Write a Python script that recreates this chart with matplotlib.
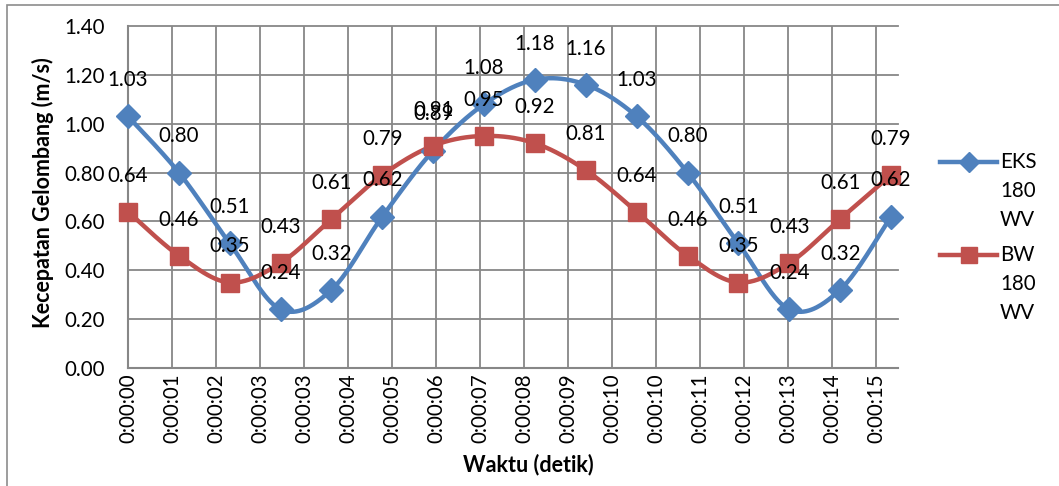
import numpy as np
import matplotlib
matplotlib.use("Agg")
import matplotlib.pyplot as plt
from matplotlib.lines import Line2D
from matplotlib.patches import Rectangle

# Measurement times (seconds) and wave velocities (m/s)
time_s = [0, 1, 2, 3, 4, 5, 6, 7, 8, 9, 10, 11, 12, 13, 14, 15]
eks_180_wv = [1.03, 0.80, 0.51, 0.24, 0.32, 0.62, 0.89, 1.08,
              1.18, 1.16, 1.03, 0.80, 0.51, 0.24, 0.32, 0.62]
bw_180_wv = [0.64, 0.46, 0.35, 0.43, 0.61, 0.79, 0.91, 0.95,
             0.92, 0.81, 0.64, 0.46, 0.35, 0.43, 0.61, 0.79]

series_names = ["EKS\n180\nWV", "BW\n180\nWV"]
tick_labels = ["0:00:00", "0:00:01", "0:00:02", "0:00:03", "0:00:03",
               "0:00:04", "0:00:05", "0:00:06", "0:00:07", "0:00:08",
               "0:00:09", "0:00:10", "0:00:10", "0:00:11", "0:00:12",
               "0:00:13", "0:00:14", "0:00:15"]
tick_step = 0.865  # major unit of the time axis, in seconds

BLUE = "#4F81BD"
RED = "#C0504D"
GRID = "#878787"
FONT = "Lato"
FS = 14.8
FS_TITLE = 15.5

plt.rcParams["font.family"] = [FONT, "DejaVu Sans"]


def smooth(x, y, n=40):
    """Bezier smoothing through every point (Catmull-Rom, tension 1/6)."""
    P = np.column_stack([np.asarray(x, float), np.asarray(y, float)])
    out = [P[0]]
    t = np.linspace(0, 1, n)[1:, None]
    for i in range(len(P) - 1):
        p0 = P[i - 1] if i > 0 else P[i]
        p1, p2 = P[i], P[i + 1]
        p3 = P[i + 2] if i + 2 < len(P) else P[i + 1]
        c1 = p1 + (p2 - p0) / 6.0
        c2 = p2 - (p3 - p1) / 6.0
        b = ((1 - t) ** 3) * p1 + 3 * ((1 - t) ** 2) * t * c1 \
            + 3 * (1 - t) * t ** 2 * c2 + t ** 3 * p2
        out.extend(b)
    out = np.array(out)
    return out[:, 0], out[:, 1]


W, H = 1059, 486
fig = plt.figure(figsize=(W / 100, H / 100), dpi=100)

# outer chart frame
fig.patches.append(Rectangle((7 / W, -0.1), 1.2, (H - 5) / H + 0.1,
                             transform=fig.transFigure, fill=False,
                             edgecolor="#8C8C8C", lw=1.2, clip_on=False))

ax = fig.add_axes([128 / W, 1 - 368 / H, 770 / W, 342 / H])

ticks = [k * tick_step for k in range(len(tick_labels))]
ax.set_xlim(0, 17.5 * tick_step)
ax.set_ylim(0, 1.4)
ax.set_xticks(ticks)
ax.set_xticklabels(tick_labels, rotation=90, fontsize=FS)
ax.set_yticks(np.arange(0, 1.41, 0.2))
ax.set_yticklabels([f"{v:.2f}" for v in np.arange(0, 1.41, 0.2)], fontsize=FS)
ax.tick_params(axis="both", length=0)
ax.tick_params(axis="y", pad=16.5)
ax.tick_params(axis="x", pad=4)
ax.grid(True, color=GRID, lw=1.3)
ax.set_axisbelow(True)
for side in ("top", "right"):
    ax.spines[side].set_visible(False)
for side in ("left", "bottom"):
    ax.spines[side].set_color(GRID)
    ax.spines[side].set_linewidth(1.5)
for gl in ax.get_ygridlines():
    gl.set_clip_on(False)

series = [(eks_180_wv, BLUE, "D", 12), (bw_180_wv, RED, "s", 13)]
for vals, col, mk, ms in series:
    sx, sy = smooth(time_s, vals)
    ax.plot(sx, sy, color=col, lw=3.2, solid_capstyle="round", zorder=3,
            clip_on=False)
    ax.plot(time_s, vals, linestyle="none", marker=mk, ms=ms, color=col,
            markeredgecolor=col, zorder=4, clip_on=False)
for vals, col, mk, ms in series:
    for x, v in zip(time_s, vals):
        ax.annotate(f"{v:.2f}", (x, v), xytext=(0, 26),
                    textcoords="offset points", ha="center", va="center",
                    fontsize=FS, color="black", zorder=5,
                    annotation_clip=False)

fig.text(43 / W, 1 - 193 / H, "Kecepatan Gelombang (m/s)", rotation=90,
         ha="center", va="center", fontsize=FS_TITLE, fontweight="bold")
fig.text(528 / W, 1 - 465 / H, "Waktu (detik)", ha="center", va="center",
         fontsize=FS_TITLE, fontweight="bold")

# legend drawn beside the plot area
leg_y = [162, 255]
for (vals, col, mk, ms), name, y in zip(series, series_names, leg_y):
    yf = 1 - y / H
    fig.add_artist(Line2D([940 / W, 997 / W], [yf, yf], color=col, lw=3.2,
                          transform=fig.transFigure))
    fig.add_artist(Line2D([968.5 / W], [yf], marker=mk, ms=ms - 2, color=col,
                          transform=fig.transFigure, linestyle="none"))
    for j, line in enumerate(name.split("\n")):
        fig.text(1000 / W, 1 - (y + 29 * j) / H, line, ha="left",
                 va="center", fontsize=FS)

fig.savefig("out.png", dpi=100)
